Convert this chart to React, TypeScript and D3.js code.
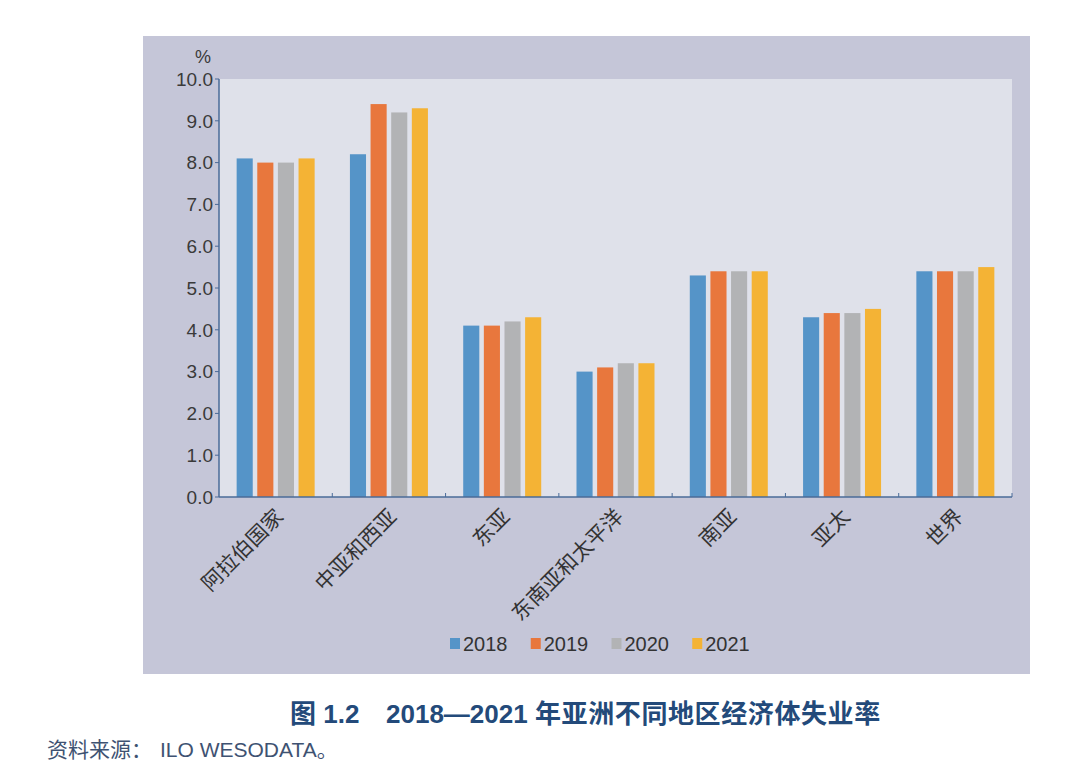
import React from "react";
import * as d3 from "d3";

const categories = ["阿拉伯国家", "中亚和西亚", "东亚", "东南亚和太平洋", "南亚", "亚太", "世界"];
const seriesNames = ["2018", "2019", "2020", "2021"];
const v2018 = [8.1, 8.2, 4.1, 3.0, 5.3, 4.3, 5.4];
const v2019 = [8.0, 9.4, 4.1, 3.1, 5.4, 4.4, 5.4];
const v2020 = [8.0, 9.2, 4.2, 3.2, 5.4, 4.4, 5.4];
const v2021 = [8.1, 9.3, 4.3, 3.2, 5.4, 4.5, 5.5];
const seriesValues = [v2018, v2019, v2020, v2021];
const colors = ["#5594c8", "#e8773d", "#b2b3b5", "#f4b335"];
const yTicks = [0, 1, 2, 3, 4, 5, 6, 7, 8, 9, 10];
const titleA = "图 1.2";
const titleB = "2018—2021";
const titleC = "年亚洲不同地区经济体失业率";
const sourceA = "资料来源：";
const sourceB = "ILO WESODATA。";

const FONT = "'Liberation Sans', 'Noto Sans CJK SC', sans-serif";

export default function App() {
  const left = 219, right = 1012, top = 79, bottom = 497;
  const x = d3.scaleBand<string>().domain(categories).range([left, right]).paddingInner(0).paddingOuter(0);
  const inner = d3.scaleBand<string>().domain(seriesNames).range([0, 78]).paddingInner(0.22).paddingOuter(0);
  const y = d3.scaleLinear().domain([0, 10]).range([bottom, top]);
  const bw = x.bandwidth();
  const groupOffset = (bw - 78) / 2;
  const legendX = d3.scaleBand<string>().domain(seriesNames).range([450, 773]);

  return (
    <svg width={1080} height={780} style={{ position: "absolute", left: 0, top: 0, background: "#fff" }} fontFamily={FONT}>
      <rect x={143} y={36} width={887} height={638} fill="#c5c6d8" />
      <rect x={left} y={top} width={right - left} height={bottom - top} fill="#dfe1ea" />
      {categories.map((c, i) =>
        seriesValues.map((vals, s) => (
          <rect
            key={c + s}
            x={(x(c) as number) + groupOffset + (inner(seriesNames[s]) as number)}
            y={y(vals[i])}
            width={inner.bandwidth()}
            height={bottom - y(vals[i])}
            fill={colors[s]}
          />
        ))
      )}
      {/* y axis */}
      <line x1={left} x2={left} y1={top} y2={bottom} stroke="#4a6b99" strokeWidth={1.5} />
      {yTicks.map((t) => (
        <g key={t}>
          <line x1={left - 4} x2={left} y1={y(t)} y2={y(t)} stroke="#4a6b99" strokeWidth={1} />
          <text x={left - 6} y={y(t)} dy="0.36em" textAnchor="end" fontSize={19} fill="#3a3a3a">
            {t.toFixed(1)}
          </text>
        </g>
      ))}
      <text x={203} y={63} textAnchor="middle" fontSize={18} fill="#3a3a3a">%</text>
      {/* x axis */}
      <line x1={left} x2={right} y1={bottom} y2={bottom} stroke="#4a6b99" strokeWidth={1.5} />
      {categories.map((c, i) => (
        <line key={"t" + i} x1={(x(c) as number) + bw} x2={(x(c) as number) + bw} y1={bottom} y2={bottom - 4} stroke="#4a6b99" strokeWidth={1} />
      ))}
      {categories.map((c) => {
        const cx = (x(c) as number) + bw / 2 + 9;
        const cy = bottom + 21;
        return (
          <text key={"l" + c} x={cx} y={cy} textAnchor="end" fontSize={21} fill="#333" transform={`rotate(-45 ${cx} ${cy})`}>
            {c}
          </text>
        );
      })}
      {/* legend */}
      {seriesNames.map((s, i) => (
        <g key={"lg" + s}>
          <rect x={legendX(s) as number} y={638} width={10} height={11} fill={colors[i]} />
          <text x={(legendX(s) as number) + 13} y={651} fontSize={20} fill="#333">{s}</text>
        </g>
      ))}
      <text y={723} fontSize={26} fontWeight="bold" fill="#234a7a">
        <tspan x={290}>{titleA}</tspan>
        <tspan x={386}>{titleB}</tspan>
        <tspan x={535} letterSpacing={0.6}>{titleC}</tspan>
      </text>
      <text y={757} fontSize={21} fill="#3e5272">
        <tspan x={47}>{sourceA}</tspan>
        <tspan x={160}>{sourceB}</tspan>
      </text>
    </svg>
  );
}
